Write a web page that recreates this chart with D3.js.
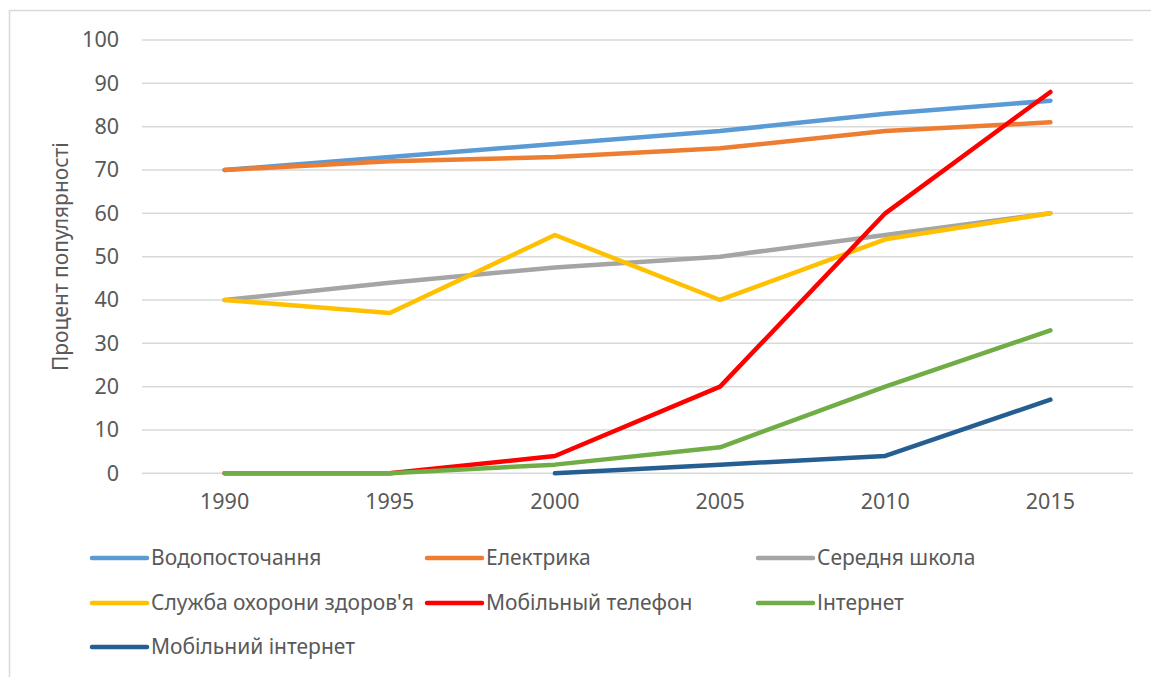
<!DOCTYPE html>
<html>
<head>
<meta charset="utf-8">
<script src="https://cdn.jsdelivr.net/npm/d3@7"></script>
<style>
  body { margin: 0; background: #fff; }
  text { font-family: "Noto Sans", "Open Sans", sans-serif; fill: #595959; }
</style>
</head>
<body>
<div id="chart"></div>
<script>
// years on the x axis
let years = ["1990", "1995", "2000", "2005", "2010", "2015"]
let yTicks = [0, 10, 20, 30, 40, 50, 60, 70, 80, 90, 100]

// series values (null = no data)
let water = [70, 73, 76, 79, 83, 86]
let electricity = [70, 72, 73, 75, 79, 81]
let school = [40, 44, 47.5, 50, 55, 60]
let health = [40, 37, 55, 40, 54, 60]
let mobile = [0, 0, 4, 20, 60, 88]
let internet = [0, 0, 2, 6, 20, 33]
let mobileInternet = [null, null, 0, 2, 4, 17]

let seriesNames = ["Водопосточання", "Електрика", "Середня школа", "Служба охорони здоров'я",
    "Мобільный телефон", "Інтернет", "Мобільний інтернет"]
let seriesColors = ["#5B9BD5", "#ED7D31", "#A5A5A5", "#FFC000", "#FF0000", "#70AD47", "#255E91"]
let seriesValues = [water, electricity, school, health, mobile, internet, mobileInternet]

drawChart()

function drawChart() {
    var width = 1151, height = 677
    var plot = { left: 142, right: 1133, top: 40, bottom: 473.3 }

    var svg = d3.select("#chart")
        .append("svg")
        .attr("width", width)
        .attr("height", height)

    // chart frame (only top/left visible)
    svg.append("rect")
        .attr("x", 9.5).attr("y", 10.5)
        .attr("width", 1200).attr("height", 700)
        .attr("fill", "none")
        .attr("stroke", "#d9d9d9")
        .attr("stroke-width", 1.5)

    var x = d3.scaleBand()
        .domain(years)
        .range([plot.left, plot.right])

    var y = d3.scaleLinear()
        .domain([0, 100])
        .range([plot.bottom, plot.top])

    // gridlines
    svg.append("g")
        .selectAll("line")
        .data(yTicks)
        .enter()
        .append("line")
        .attr("x1", plot.left)
        .attr("x2", plot.right)
        .attr("y1", function (d) { return y(d); })
        .attr("y2", function (d) { return y(d); })
        .attr("stroke", "#d9d9d9")
        .attr("stroke-width", 1.5)

    // y axis labels
    var yAxis = svg.append("g")
        .attr("transform", "translate(" + (plot.left - 23) + ",0)")
        .call(d3.axisLeft(y).tickValues(yTicks).tickSize(0).tickPadding(0))
    yAxis.select(".domain").remove()
    yAxis.selectAll("text")
        .style("font-size", "21.5px")
        .attr("fill", "#595959")

    // x axis labels
    var xAxis = svg.append("g")
        .attr("transform", "translate(0," + plot.bottom + ")")
        .call(d3.axisBottom(x).tickSize(0).tickPadding(20))
    xAxis.select(".domain").remove()
    xAxis.selectAll("text")
        .style("font-size", "21.5px")
        .attr("fill", "#595959")

    // y axis title
    svg.append("text")
        .attr("transform", "translate(68," + ((plot.top + plot.bottom) / 2) + ") rotate(-90)")
        .attr("text-anchor", "middle")
        .style("font-size", "21px")
        .text("Процент популярності")

    // lines
    var line = d3.line()
        .defined(function (d) { return d !== null; })
        .x(function (d, i) { return x(years[i]) + x.bandwidth() / 2; })
        .y(function (d) { return y(d); })

    svg.append("g")
        .selectAll("path")
        .data(seriesValues)
        .enter()
        .append("path")
        .attr("d", line)
        .attr("fill", "none")
        .attr("stroke", function (d, i) { return seriesColors[i]; })
        .attr("stroke-width", 4.5)
        .attr("stroke-linecap", "round")
        .attr("stroke-linejoin", "round")

    // legend
    var legendCols = [92, 427, 758]
    var legendRows = [558, 603, 647]
    var legend = svg.append("g")
        .selectAll("g")
        .data(seriesNames)
        .enter()
        .append("g")
        .attr("transform", function (d, i) {
            return "translate(" + legendCols[i % 3] + "," + legendRows[Math.floor(i / 3)] + ")";
        })
    legend.append("line")
        .attr("x1", 0).attr("x2", 55)
        .attr("y1", 0).attr("y2", 0)
        .attr("stroke", function (d, i) { return seriesColors[i]; })
        .attr("stroke-width", 4.5)
        .attr("stroke-linecap", "round")
    legend.append("text")
        .attr("x", 59)
        .attr("dy", "0.35em")
        .style("font-size", "21px")
        .text(function (d) { return d; })
}
</script>
</body>
</html>
